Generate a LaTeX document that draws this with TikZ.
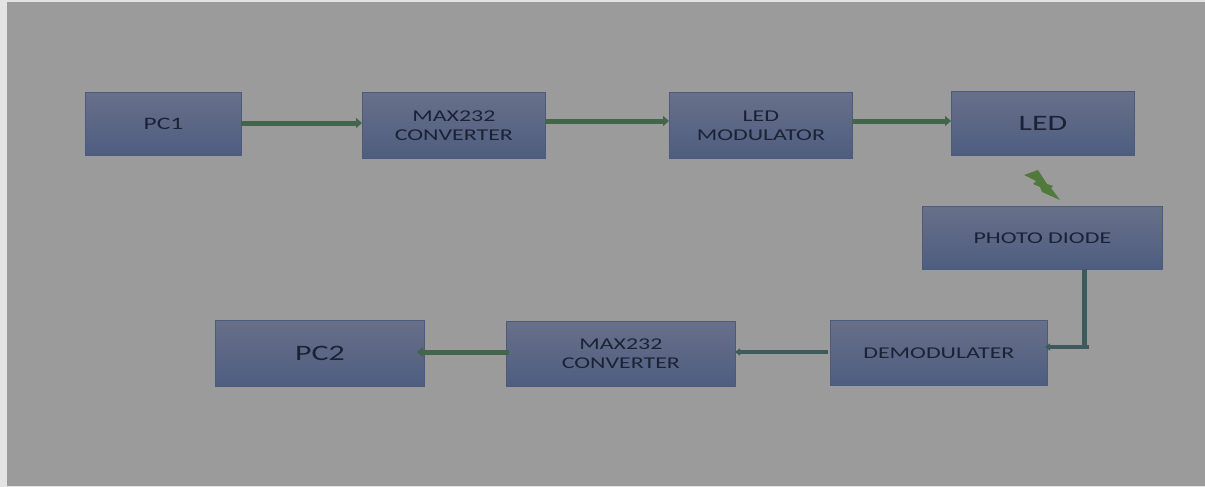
\documentclass[tikz,border=0pt]{standalone}
\usepackage{fontspec}
\setmainfont{Carlito}[FakeStretch=1.45]
\usetikzlibrary{arrows.meta}
\definecolor{bgout}{HTML}{E4E4E4}
\definecolor{bggrey}{HTML}{9B9B9B}
\definecolor{boxtop}{HTML}{687089}
\definecolor{boxbot}{HTML}{4E5D80}
\definecolor{boxline}{HTML}{4C5A7C}
\definecolor{wire}{HTML}{42654C}
\definecolor{wireb}{HTML}{3F5A5C}
\definecolor{bolt}{HTML}{4F7A3C}
\definecolor{ink}{HTML}{1B2236}
\tikzset{
  x=1pt,y=-1pt,
  blockbox/.style={draw=boxline,line width=0.8pt,top color=boxtop,bottom color=boxbot,
    text=ink,align=center,inner sep=0pt,font=\fontsize{16.5}{19}\selectfont,anchor=north west},
  midtext/.style={font=\fontsize{17.5}{19}\selectfont},
  bigtext/.style={font=\fontsize{22}{24}\selectfont},
  thick wire/.style={draw=wire,line width=5pt,-{Triangle[length=6pt,width=10pt]}},
  thin wire/.style={draw=wireb,line width=3.4pt,-{Triangle[length=5pt,width=7pt]}},
}
\newcommand{\blockat}[7][]{\node[blockbox,#1,minimum width=#5pt-#3pt,minimum height=#6pt-#4pt] (#2) at (#3,#4) {#7};}
\begin{document}
\begin{tikzpicture}
\useasboundingbox (0,0) rectangle (1205,487);
\fill[bgout] (0,0) rectangle (1205,487);
\fill[bggrey] (7,2) rectangle (1205,486);
\blockat[midtext]{pca}{85}{92}{241}{155}{PC1}
\blockat{maxa}{362}{92}{545}{158}{MAX232\\CONVERTER}
\blockat{mod}{669}{92}{852}{158}{LED\\MODULATOR}
\blockat[bigtext]{led}{951}{91}{1134}{155}{LED}
\blockat{pd}{922}{206}{1162}{269}{PHOTO DIODE}
\blockat{dem}{830}{320}{1047}{385}{DEMODULATER}
\blockat{maxb}{506}{321}{735}{386}{MAX232\\CONVERTER}
\blockat[bigtext]{pcb}{215}{320}{424}{386}{PC2}
\coordinate (pcaE) at (241,123);
\coordinate (maxaW) at (362,123);
\coordinate (maxaE) at (545,121);
\coordinate (modW) at (669,121);
\coordinate (modE) at (852,121);
\coordinate (ledW) at (951,121);
\coordinate (pdS) at (1084,269);
\coordinate (corner) at (1084,347);
\coordinate (stub) at (1089,347);
\coordinate (demE) at (1045,347);
\coordinate (demW) at (828,352);
\coordinate (maxbE) at (735,352);
\coordinate (maxbW) at (509,352);
\coordinate (pcbE) at (417,352);
\draw[thick wire] (pcaE) -- (maxaW);
\draw[thick wire] (maxaE) -- (modW);
\draw[thick wire] (modE) -- (ledW);
\draw[draw=wireb,line width=5pt] (pdS) -- (corner);
\draw[thin wire] (stub) -- (demE);
\draw[thin wire] (demW) -- (maxbE);
\draw[thick wire] (maxbW) -- (pcbE);
\fill[bolt] (1024,175) -- (1038,170) -- (1047,184) -- (1053,186) -- (1051,188) -- (1060,200)
  -- (1042,192) -- (1040,187) -- (1033,184) -- (1036,181) -- cycle;
\end{tikzpicture}
\end{document}
